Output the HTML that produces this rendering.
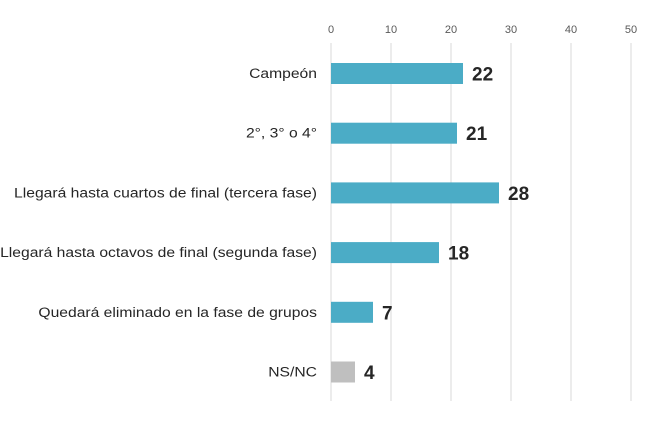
<!DOCTYPE html>
<html><head><meta charset="utf-8"><style>
body{margin:0;background:#fff;}
svg{display:block;font-family:"Liberation Sans",sans-serif;}
</style></head><body>
<svg id="chart" width="651" height="421"></svg>
<script>
const categories=["Campeón","2°, 3° o 4°","Llegará hasta cuartos de final (tercera fase)","Llegará hasta octavos de final (segunda fase)","Quedará eliminado en la fase de grupos","NS/NC"];
const values=[22,21,28,18,7,4];
const colors=["#4bacc6","#4bacc6","#4bacc6","#4bacc6","#4bacc6","#bfbfbf"];
const ticks=[0,10,20,30,40,50];
const svg=document.getElementById('chart');
const NS='http://www.w3.org/2000/svg';
const x0=331,xs=6.0,y0=73.5,dy=59.7,bh=21;
const X=v=>x0+v*xs, Y=i=>y0+i*dy;
function mk(t,a,txt){const e=document.createElementNS(NS,t);for(const k in a)e.setAttribute(k,a[k]);if(txt!==undefined)e.textContent=txt;svg.appendChild(e);return e;}
ticks.forEach(t=>{
 const g=mk('line',{x1:X(t),x2:X(t),y1:43,y2:401,stroke:'#d9d9d9','stroke-width':1});
 
 
 const l=mk('text',{x:X(t),y:33,'text-anchor':'middle','font-size':11,fill:'#595959'},t);
 
 
});
categories.forEach((c,i)=>{
 const l=mk('text',{x:317,y:Y(i)+4.5,'text-anchor':'end','font-size':13.5,fill:'#262626'},c);
 
 
 const w=l.getComputedTextLength();
 l.setAttribute('textLength',w*1.16);
 l.setAttribute('lengthAdjust','spacingAndGlyphs');
 const b=mk('rect',{x:X(0),y:Y(i)-bh/2,width:values[i]*xs,height:bh,fill:colors[i]});
 
 
 const v=mk('text',{x:X(values[i])+9,y:Y(i)+7,'font-size':19,'font-weight':'bold',fill:'#262626'},values[i]);
 
 
});
</script>
</body></html>
